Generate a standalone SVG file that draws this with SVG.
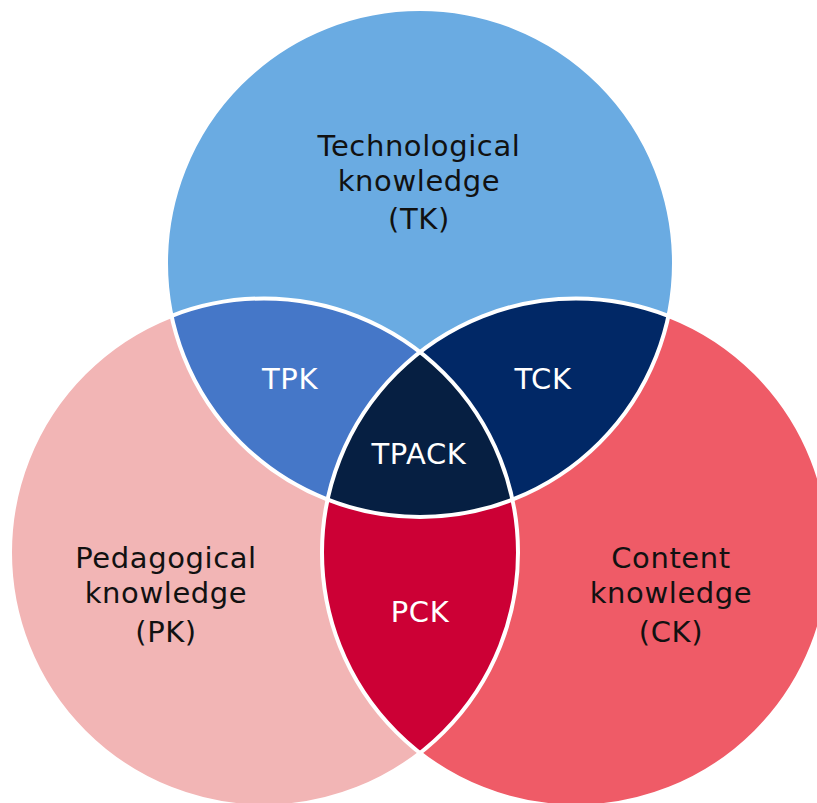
<svg xmlns="http://www.w3.org/2000/svg" width="817" height="803" viewBox="0 0 817 803">
  <style>
    .lbl { font-family: "DejaVu Sans", "Liberation Sans", sans-serif; font-size: 29px; letter-spacing: 0.6px; text-anchor: middle; }
    .dark { fill: #111111; }
    .light { fill: #ffffff; }
    .edge { fill: none; stroke: #ffffff; stroke-width: 4; }
  </style>
  <defs>
    <clipPath id="clipT"><circle cx="420" cy="263" r="254"/></clipPath>
    <clipPath id="clipL"><circle cx="264" cy="552.5" r="254"/></clipPath>
    <clipPath id="clipR"><circle cx="576" cy="552.5" r="254"/></clipPath>
  </defs>
  <rect width="817" height="803" fill="#ffffff"/>

  <g id="TK">
    <circle cx="420" cy="263" r="254" fill="#6AABE2"/>
  </g>
  <g id="PK">
    <circle cx="264" cy="552.5" r="254" fill="#F2B5B5"/>
  </g>
  <g id="CK">
    <circle cx="576" cy="552.5" r="254" fill="#EF5B67"/>
  </g>
  <g id="TPK">
    <circle cx="264" cy="552.5" r="254" fill="#4577C8" clip-path="url(#clipT)"/>
  </g>
  <g id="TCK">
    <circle cx="576" cy="552.5" r="254" fill="#012866" clip-path="url(#clipT)"/>
  </g>
  <g id="PCK">
    <circle cx="576" cy="552.5" r="254" fill="#CC0035" clip-path="url(#clipL)"/>
  </g>
  <g id="TPACK">
    <g clip-path="url(#clipT)">
      <circle cx="576" cy="552.5" r="254" fill="#061F42" clip-path="url(#clipL)"/>
    </g>
  </g>
  <g id="outlines">
    <circle class="edge" cx="420" cy="263" r="254"/>
    <circle class="edge" cx="264" cy="552.5" r="254"/>
    <circle class="edge" cx="576" cy="552.5" r="254"/>
  </g>

  <g id="labels">
    <text class="lbl dark" x="419" y="156">Technological</text>
    <text class="lbl dark" x="419" y="191">knowledge</text>
    <text class="lbl dark" x="419" y="229">(TK)</text>

    <text class="lbl dark" x="166" y="568">Pedagogical</text>
    <text class="lbl dark" x="166" y="603">knowledge</text>
    <text class="lbl dark" x="166" y="642">(PK)</text>

    <text class="lbl dark" x="671" y="568">Content</text>
    <text class="lbl dark" x="671" y="603">knowledge</text>
    <text class="lbl dark" x="671" y="642">(CK)</text>

    <text class="lbl light" x="290" y="389">TPK</text>
    <text class="lbl light" x="543" y="389">TCK</text>
    <text class="lbl light" x="419" y="464">TPACK</text>
    <text class="lbl light" x="420" y="622">PCK</text>
  </g>
</svg>
